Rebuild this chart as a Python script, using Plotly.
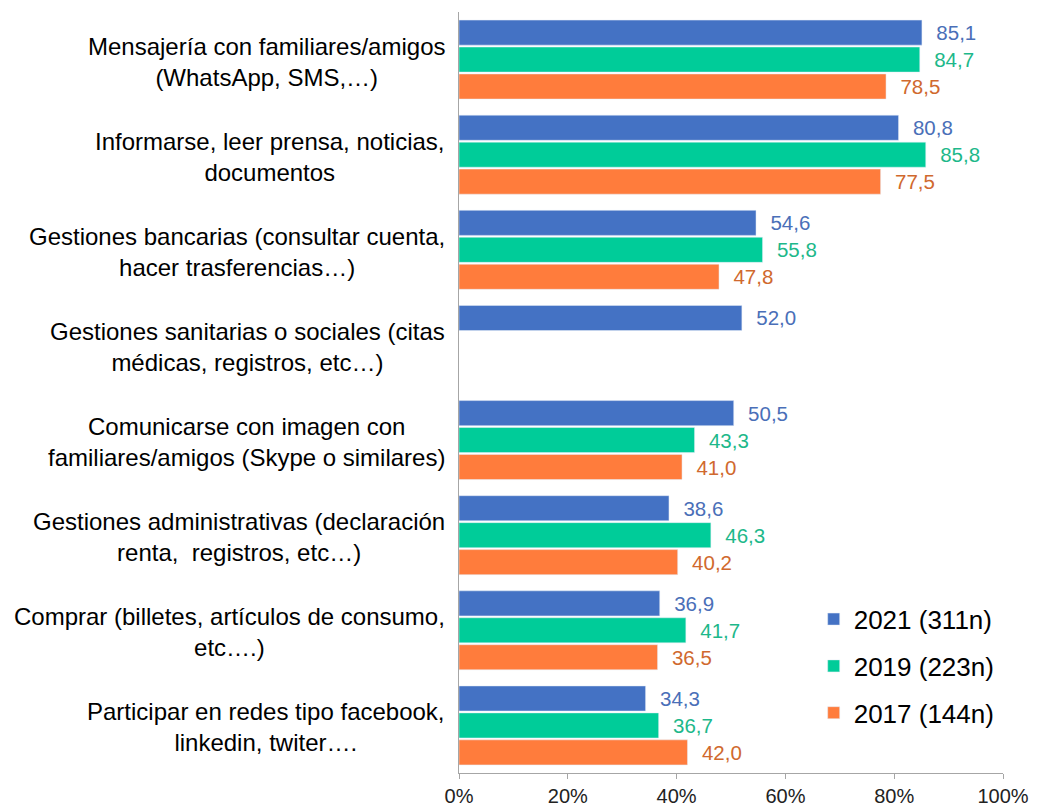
import plotly.graph_objects as go

# categories, top to bottom
categories = [
    "Mensajería con familiares/amigos<br>(WhatsApp, SMS,…)",
    "Informarse, leer prensa, noticias,<br>documentos",
    "Gestiones bancarias (consultar cuenta,<br>hacer trasferencias…)",
    "Gestiones sanitarias o sociales (citas<br>médicas, registros, etc…)",
    "Comunicarse con imagen con<br>familiares/amigos (Skype o similares)",
    "Gestiones administrativas (declaración<br>renta,  registros, etc…)",
    "Comprar (billetes, artículos de consumo,<br>etc….)",
    "Participar en redes tipo facebook,<br>linkedin, twiter….",
]

y2021 = [85.1, 80.8, 54.6, 52.0, 50.5, 38.6, 36.9, 34.3]
y2019 = [84.7, 85.8, 55.8, None, 43.3, 46.3, 41.7, 36.7]
y2017 = [78.5, 77.5, 47.8, None, 41.0, 40.2, 36.5, 42.0]

series_names = ["2021 (311n)", "2019 (223n)", "2017 (144n)"]
bar_colors = ["#4472C4", "#00CC99", "#FF7C3C"]
label_colors = ["#4A6FB8", "#1DB88A", "#D0692E"]

fig = go.Figure()

for name, vals, col, lcol in zip(series_names, [y2021, y2019, y2017], bar_colors, label_colors):
    fig.add_trace(go.Bar(
        name=name,
        y=list(range(len(categories))),
        x=vals,
        orientation="h",
        marker=dict(color=col),
        texttemplate="\u00a0\u00a0%{x:.1f}",
        textposition="outside",
        textfont=dict(color=lcol, size=20.5, family="Liberation Sans, Arial"),
        cliponaxis=False,
        legendgroup=name,
    ))

# category labels as centred multi-line annotations
for i, cat in enumerate(categories):
    fig.add_annotation(
        x=0, y=i, xref="x", yref="y",
        text=cat, showarrow=False,
        xanchor="right", yanchor="middle",
        xshift=-12, yshift=-2, align="center",
        font=dict(size=24, color="#000000", family="Liberation Sans, Arial"),
    )

# the page body adds an 8px offset, so margins are shifted to compensate
fig.update_layout(
    width=1037, height=807,
    margin=dict(l=451, r=42, t=4, b=42, autoexpand=False),
    paper_bgcolor="white", plot_bgcolor="white",
    barmode="group",
    bargap=0.15,
    bargroupgap=0.07,
    separators=",.",
    font=dict(family="Liberation Sans, Arial", color="#000000"),
    legend=dict(
        x=0.652, y=0.233, xanchor="left", yanchor="top",
        font=dict(size=26, color="#000000"),
        bgcolor="rgba(0,0,0,0)",
        tracegroupgap=10,
    ),
    showlegend=True,
)

fig.update_xaxes(
    range=[0, 100],
    tickvals=[0, 20, 40, 60, 80, 100],
    ticktext=["0%", "20%", "40%", "60%", "80%", "100%"],
    ticks="outside", ticklen=5, tickcolor="#A6A6A6",
    showline=True, linecolor="#A6A6A6", linewidth=1,
    showgrid=False, zeroline=False,
    tickfont=dict(size=20, color="#222222"),
)
fig.update_yaxes(
    autorange="reversed",
    showticklabels=False,
    showgrid=False, zeroline=False,
    showline=True, linecolor="#A6A6A6", linewidth=1,
    range=[7.5, -0.5],
)

fig.write_html("out.html")
